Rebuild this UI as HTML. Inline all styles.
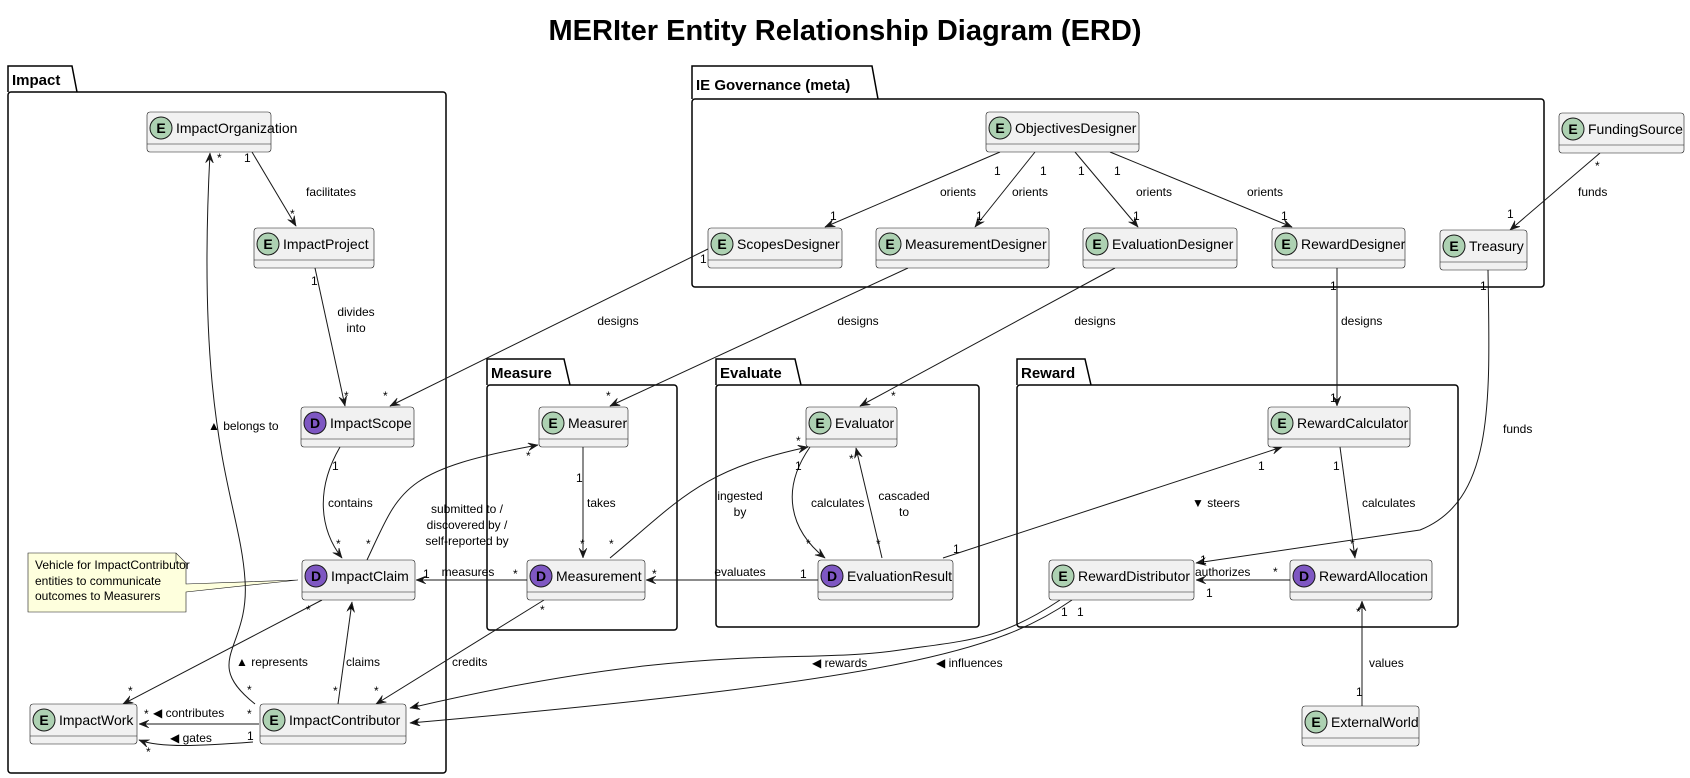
<!DOCTYPE html>
<html><head><meta charset="utf-8"><style>
html,body{margin:0;padding:0;background:#fff;}
svg{display:block;font-family:"Liberation Sans",sans-serif;}
.n rect{fill:#F1F1F1;stroke:#181818;stroke-width:0.6;}
.n line{stroke:#181818;stroke-width:0.6;}
.n text{font-size:14px;fill:#000;}
.ic{stroke:#181818;stroke-width:1;}
.ie{fill:#ADD1B2;} .id{fill:#7E57C2;}
.il{font-weight:bold;font-size:14px;text-anchor:middle;}
.e{fill:none;stroke:#181818;stroke-width:1;marker-end:url(#a);}
.l{font-size:12px;fill:#000;}
.c{text-anchor:middle;}
.pk{fill:none;stroke:#000;stroke-width:1.5;}
.pt{font-weight:bold;font-size:15px;}
</style></head><body>
<svg width="1690" height="778" viewBox="0 0 1690 778" xmlns="http://www.w3.org/2000/svg">
<defs><marker id="a" markerWidth="12" markerHeight="10" refX="10" refY="4" orient="auto" markerUnits="userSpaceOnUse"><path d="M0,0 L10,4 L0,8 L4,4 Z" fill="#181818" stroke="#181818" stroke-width="0.5"/></marker></defs>
<text x="845" y="40" text-anchor="middle" font-size="29" font-weight="bold">MERIter Entity Relationship Diagram (ERD)</text>

<!-- packages -->
<path class="pk" d="M8,92 L8,66 L72,66 L77,92"/><rect class="pk" x="8" y="92" width="438" height="681" rx="3"/><text class="pt" x="12" y="85">Impact</text>
<path class="pk" d="M692,99 L692,66 L872,66 L878,99"/><rect class="pk" x="692" y="99" width="852" height="188" rx="3"/><text class="pt" x="696" y="90">IE Governance (meta)</text>
<path class="pk" d="M487,385 L487,359 L564,359 L570,385"/><rect class="pk" x="487" y="385" width="190" height="245" rx="3"/><text class="pt" x="491" y="378">Measure</text>
<path class="pk" d="M716,385 L716,359 L795,359 L801,385"/><rect class="pk" x="716" y="385" width="263" height="242" rx="3"/><text class="pt" x="720" y="378">Evaluate</text>
<path class="pk" d="M1017,385 L1017,359 L1085,359 L1091,385"/><rect class="pk" x="1017" y="385" width="441" height="242" rx="3"/><text class="pt" x="1021" y="378">Reward</text>

<!-- note -->
<path d="M28,553 L176,553 L186,563 L186,584 L298,580 L186,592 L186,612 L28,612 Z" fill="#FEFFDD" stroke="#181818" stroke-width="0.6"/>
<path d="M176,553 L176,563 L186,563" fill="none" stroke="#181818" stroke-width="0.6"/>
<text class="l" x="35" y="569">Vehicle for ImpactContributor</text>
<text class="l" x="35" y="585">entities to communicate</text>
<text class="l" x="35" y="600">outcomes to Measurers</text>

<!-- edges -->
<path class="e" d="M252,152 L296,226"/>
<path class="e" d="M315,268 L345,406"/>
<path class="e" d="M710,248 L390,406"/>
<path class="e" d="M340,447 C315,490 320,530 342,558"/>
<path class="e" d="M367,560 C400,490 400,470 538,445"/>
<path class="e" d="M527,580 L416,580"/>
<path class="e" d="M583,447 L583,558"/>
<path class="e" d="M322,600 L123,704"/>
<path class="e" d="M338,704 L352,602"/>
<path class="e" d="M255,704 C200,660 250,650 245,580 C240,500 195,440 210,153"/>
<path class="e" d="M259,724 L139,724"/>
<path class="e" d="M253,742 C200,746 160,748 139,740"/>
<path class="e" d="M544,600 L376,704"/>
<path class="e" d="M908,268 L610,406"/>
<path class="e" d="M1115,268 L860,406"/>
<path class="e" d="M1337,268 L1337,406"/>
<path class="e" d="M610,558 C680,500 700,470 808,447"/>
<path class="e" d="M810,447 C780,490 790,530 825,558"/>
<path class="e" d="M882,558 L856,448"/>
<path class="e" d="M818,580 L646,580"/>
<path class="e" d="M943,558 L1282,447"/>
<path class="e" d="M1340,447 L1355,558"/>
<path class="e" d="M1290,580 L1196,580"/>
<path class="e" d="M1488,270 C1490,400 1495,500 1420,530 L1196,563"/>
<path class="e" d="M1600,153 L1510,230"/>
<path class="e" d="M1000,152 L825,227"/>
<path class="e" d="M1035,152 L975,227"/>
<path class="e" d="M1075,152 L1138,227"/>
<path class="e" d="M1110,152 L1292,227"/>
<path class="e" d="M1362,706 L1362,601"/>
<path class="e" d="M1060,600 C1000,640 970,640 900,650 C800,665 700,640 410,708"/>
<path class="e" d="M1072,600 C1000,650 900,680 410,723"/>

<!-- edge labels -->
<g class="l">
<text x="244" y="162">1</text><text x="290" y="218">*</text><text x="306" y="196">facilitates</text>
<text x="311" y="285">1</text><text x="344" y="400">*</text><text x="356" y="316" class="c">divides</text><text x="356" y="332" class="c">into</text>
<text x="700" y="263">1</text><text x="383" y="400">*</text><text x="618" y="325" class="c">designs</text>
<text x="332" y="470">1</text><text x="336" y="548">*</text><text x="328" y="507">contains</text>
<text x="366" y="548">*</text><text x="526" y="460">*</text>
<text x="467" y="513" class="c">submitted to /</text><text x="467" y="529" class="c">discovered by /</text><text x="467" y="545" class="c">self-reported by</text>
<text x="423" y="578">1</text><text x="513" y="578">*</text><text x="468" y="576" class="c">measures</text>
<text x="576" y="482">1</text><text x="580" y="548">*</text><text x="587" y="507">takes</text>
<text x="306" y="614">*</text><text x="128" y="695">*</text><text x="236" y="666">▲ represents</text>
<text x="333" y="695">*</text><text x="349" y="614">*</text><text x="346" y="666">claims</text>
<text x="247" y="694">*</text><text x="217" y="162">*</text><text x="208" y="430">▲ belongs to</text>
<text x="247" y="718">*</text><text x="144" y="718">*</text><text x="153" y="717">◀ contributes</text>
<text x="247" y="740">1</text><text x="146" y="756">*</text><text x="170" y="742">◀ gates</text>
<text x="540" y="614">*</text><text x="374" y="695">*</text><text x="452" y="666">credits</text>
<text x="900" y="263">1</text><text x="606" y="400">*</text><text x="858" y="325" class="c">designs</text>
<text x="1108" y="263">1</text><text x="891" y="400">*</text><text x="1095" y="325" class="c">designs</text>
<text x="1330" y="290">1</text><text x="1330" y="402">1</text><text x="1341" y="325">designs</text>
<text x="609" y="548">*</text><text x="796" y="445">*</text><text x="740" y="500" class="c">ingested</text><text x="740" y="516" class="c">by</text>
<text x="795" y="470">1</text><text x="806" y="548">*</text><text x="811" y="507">calculates</text>
<text x="876" y="548">*</text><text x="849" y="463">*</text><text x="904" y="500" class="c">cascaded</text><text x="904" y="516" class="c">to</text>
<text x="800" y="578">1</text><text x="652" y="578">*</text><text x="740" y="576" class="c">evaluates</text>
<text x="953" y="553">1</text><text x="1258" y="470">1</text><text x="1192" y="507">▼ steers</text>
<text x="1333" y="470">1</text><text x="1350" y="548">*</text><text x="1362" y="507">calculates</text>
<text x="1206" y="597">1</text><text x="1273" y="576">*</text><text x="1195" y="576">authorizes</text>
<text x="1480" y="290">1</text><text x="1200" y="564">1</text><text x="1503" y="433">funds</text>
<text x="1595" y="170">*</text><text x="1507" y="218">1</text><text x="1578" y="196">funds</text>
<text x="994" y="175">1</text><text x="830" y="220">1</text><text x="940" y="196">orients</text>
<text x="1040" y="175">1</text><text x="976" y="220">1</text><text x="1012" y="196">orients</text>
<text x="1078" y="175">1</text><text x="1133" y="220">1</text><text x="1136" y="196">orients</text>
<text x="1114" y="175">1</text><text x="1281" y="220">1</text><text x="1247" y="196">orients</text>
<text x="1356" y="696">1</text><text x="1356" y="616">*</text><text x="1369" y="667">values</text>
<text x="1061" y="616">1</text><text x="1077" y="616">1</text>
<text x="414" y="712">*</text><text x="414" y="728">*</text>
<text x="812" y="667">◀ rewards</text><text x="936" y="667">◀ influences</text>
</g>

<!-- nodes -->
<g class="n"><rect x="147" y="112" width="124" height="40" rx="3"/><line x1="147" y1="144" x2="271" y2="144"/><circle class="ic ie" cx="161" cy="128" r="11"/><text class="il" x="161" y="133">E</text><text x="176" y="133">ImpactOrganization</text></g>
<g class="n"><rect x="254" y="228" width="120" height="40" rx="3"/><line x1="254" y1="260" x2="374" y2="260"/><circle class="ic ie" cx="268" cy="244" r="11"/><text class="il" x="268" y="249">E</text><text x="283" y="249">ImpactProject</text></g>
<g class="n"><rect x="301" y="407" width="113" height="40" rx="3"/><line x1="301" y1="439" x2="414" y2="439"/><circle class="ic id" cx="315" cy="423" r="11"/><text class="il" x="315" y="428">D</text><text x="330" y="428">ImpactScope</text></g>
<g class="n"><rect x="302" y="560" width="113" height="40" rx="3"/><line x1="302" y1="592" x2="415" y2="592"/><circle class="ic id" cx="316" cy="576" r="11"/><text class="il" x="316" y="581">D</text><text x="331" y="581">ImpactClaim</text></g>
<g class="n"><rect x="30" y="704" width="107" height="40" rx="3"/><line x1="30" y1="736" x2="137" y2="736"/><circle class="ic ie" cx="44" cy="720" r="11"/><text class="il" x="44" y="725">E</text><text x="59" y="725">ImpactWork</text></g>
<g class="n"><rect x="260" y="704" width="146" height="40" rx="3"/><line x1="260" y1="736" x2="406" y2="736"/><circle class="ic ie" cx="274" cy="720" r="11"/><text class="il" x="274" y="725">E</text><text x="289" y="725">ImpactContributor</text></g>
<g class="n"><rect x="539" y="407" width="89" height="40" rx="3"/><line x1="539" y1="439" x2="628" y2="439"/><circle class="ic ie" cx="553" cy="423" r="11"/><text class="il" x="553" y="428">E</text><text x="568" y="428">Measurer</text></g>
<g class="n"><rect x="527" y="560" width="118" height="40" rx="3"/><line x1="527" y1="592" x2="645" y2="592"/><circle class="ic id" cx="541" cy="576" r="11"/><text class="il" x="541" y="581">D</text><text x="556" y="581">Measurement</text></g>
<g class="n"><rect x="806" y="407" width="91" height="40" rx="3"/><line x1="806" y1="439" x2="897" y2="439"/><circle class="ic ie" cx="820" cy="423" r="11"/><text class="il" x="820" y="428">E</text><text x="835" y="428">Evaluator</text></g>
<g class="n"><rect x="818" y="560" width="135" height="40" rx="3"/><line x1="818" y1="592" x2="953" y2="592"/><circle class="ic id" cx="832" cy="576" r="11"/><text class="il" x="832" y="581">D</text><text x="847" y="581">EvaluationResult</text></g>
<g class="n"><rect x="1268" y="407" width="142" height="40" rx="3"/><line x1="1268" y1="439" x2="1410" y2="439"/><circle class="ic ie" cx="1282" cy="423" r="11"/><text class="il" x="1282" y="428">E</text><text x="1297" y="428">RewardCalculator</text></g>
<g class="n"><rect x="1049" y="560" width="145" height="40" rx="3"/><line x1="1049" y1="592" x2="1194" y2="592"/><circle class="ic ie" cx="1063" cy="576" r="11"/><text class="il" x="1063" y="581">E</text><text x="1078" y="581">RewardDistributor</text></g>
<g class="n"><rect x="1290" y="560" width="142" height="40" rx="3"/><line x1="1290" y1="592" x2="1432" y2="592"/><circle class="ic id" cx="1304" cy="576" r="11"/><text class="il" x="1304" y="581">D</text><text x="1319" y="581">RewardAllocation</text></g>
<g class="n"><rect x="1302" y="706" width="117" height="40" rx="3"/><line x1="1302" y1="738" x2="1419" y2="738"/><circle class="ic ie" cx="1316" cy="722" r="11"/><text class="il" x="1316" y="727">E</text><text x="1331" y="727">ExternalWorld</text></g>
<g class="n"><rect x="986" y="112" width="153" height="40" rx="3"/><line x1="986" y1="144" x2="1139" y2="144"/><circle class="ic ie" cx="1000" cy="128" r="11"/><text class="il" x="1000" y="133">E</text><text x="1015" y="133">ObjectivesDesigner</text></g>
<g class="n"><rect x="708" y="228" width="134" height="40" rx="3"/><line x1="708" y1="260" x2="842" y2="260"/><circle class="ic ie" cx="722" cy="244" r="11"/><text class="il" x="722" y="249">E</text><text x="737" y="249">ScopesDesigner</text></g>
<g class="n"><rect x="876" y="228" width="173" height="40" rx="3"/><line x1="876" y1="260" x2="1049" y2="260"/><circle class="ic ie" cx="890" cy="244" r="11"/><text class="il" x="890" y="249">E</text><text x="905" y="249">MeasurementDesigner</text></g>
<g class="n"><rect x="1083" y="228" width="154" height="40" rx="3"/><line x1="1083" y1="260" x2="1237" y2="260"/><circle class="ic ie" cx="1097" cy="244" r="11"/><text class="il" x="1097" y="249">E</text><text x="1112" y="249">EvaluationDesigner</text></g>
<g class="n"><rect x="1272" y="228" width="133" height="40" rx="3"/><line x1="1272" y1="260" x2="1405" y2="260"/><circle class="ic ie" cx="1286" cy="244" r="11"/><text class="il" x="1286" y="249">E</text><text x="1301" y="249">RewardDesigner</text></g>
<g class="n"><rect x="1440" y="230" width="87" height="40" rx="3"/><line x1="1440" y1="262" x2="1527" y2="262"/><circle class="ic ie" cx="1454" cy="246" r="11"/><text class="il" x="1454" y="251">E</text><text x="1469" y="251">Treasury</text></g>
<g class="n"><rect x="1559" y="113" width="125" height="40" rx="3"/><line x1="1559" y1="145" x2="1684" y2="145"/><circle class="ic ie" cx="1573" cy="129" r="11"/><text class="il" x="1573" y="134">E</text><text x="1588" y="134">FundingSource</text></g>
</svg>
</body></html>
